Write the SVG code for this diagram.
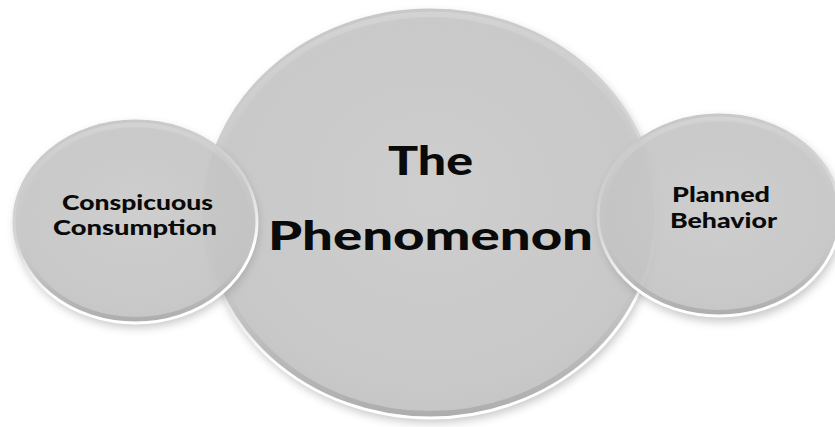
<svg xmlns="http://www.w3.org/2000/svg" width="835" height="427" viewBox="0 0 835 427">
  <style>
    .body { fill: url(#fillG); fill-opacity: 0.86; }
    .rim { fill: none; stroke: url(#rimG); stroke-width: 3; }
    .band { fill: none; stroke: url(#bandG); stroke-width: 6; }
    .shadow { fill: #8a8a8a; opacity: 0.45; filter: url(#blur); }
    .lbl { font-family: Lato, "Open Sans", "Liberation Sans", sans-serif; font-weight: 900; fill: #0a0a0a; text-anchor: middle; }
  </style>
  <defs>
    <radialGradient id="fillG" cx="0.5" cy="0.45" r="0.6">
      <stop offset="0" stop-color="#cfcfcf"/>
      <stop offset="0.8" stop-color="#c8c8c8"/>
      <stop offset="1" stop-color="#c2c2c2"/>
    </radialGradient>
    <linearGradient id="rimG" x1="0" y1="0" x2="0.3" y2="1">
      <stop offset="0" stop-color="#c4c4c4"/>
      <stop offset="0.55" stop-color="#d6d6d6"/>
      <stop offset="0.85" stop-color="#ffffff"/>
      <stop offset="1" stop-color="#ffffff"/>
    </linearGradient>
    <linearGradient id="bandG" x1="0" y1="0" x2="0" y2="1">
      <stop offset="0" stop-color="#d8d8d8" stop-opacity="0.6"/>
      <stop offset="0.6" stop-color="#c6c6c6" stop-opacity="0"/>
      <stop offset="0.85" stop-color="#b0b0b0" stop-opacity="0.6"/>
      <stop offset="1" stop-color="#a8a8a8" stop-opacity="0.8"/>
    </linearGradient>
    <filter id="blur" x="-10%" y="-10%" width="120%" height="130%">
      <feGaussianBlur stdDeviation="4"/>
    </filter>
  </defs>
  <rect width="835" height="427" fill="#ffffff"/>

  <g id="phenomenon">
    <ellipse class="shadow" cx="432" cy="218" rx="227" ry="205"/>
    <ellipse class="body" cx="430" cy="214" rx="227" ry="205"/>
    <ellipse class="band" cx="430" cy="214" rx="222" ry="200"/>
    <ellipse class="rim" cx="430" cy="214" rx="226" ry="204"/>
    <text class="lbl" x="430.5" y="175" font-size="39" textLength="85" lengthAdjust="spacingAndGlyphs">The</text>
    <text class="lbl" x="430.5" y="250" font-size="39" textLength="325" lengthAdjust="spacingAndGlyphs">Phenomenon</text>
  </g>

  <g id="conspicuous">
    <ellipse class="shadow" cx="137" cy="226" rx="122" ry="102"/>
    <ellipse class="body" cx="135.5" cy="222" rx="122.5" ry="102"/>
    <ellipse class="band" cx="135.5" cy="222" rx="118.5" ry="98"/>
    <ellipse class="rim" cx="135.5" cy="222" rx="121.5" ry="101"/>
    <text class="lbl" x="137.5" y="209.5" font-size="20.5" textLength="151" lengthAdjust="spacingAndGlyphs">Conspicuous</text>
    <text class="lbl" x="135" y="234.5" font-size="20.5" textLength="164" lengthAdjust="spacingAndGlyphs">Consumption</text>
  </g>

  <g id="planned">
    <ellipse class="shadow" cx="721" cy="220" rx="122" ry="102"/>
    <ellipse class="body" cx="719" cy="215.5" rx="122" ry="101.5"/>
    <ellipse class="band" cx="719" cy="215.5" rx="118" ry="97.5"/>
    <ellipse class="rim" cx="719" cy="215.5" rx="121" ry="100.5"/>
    <text class="lbl" x="721" y="202" font-size="21" textLength="98" lengthAdjust="spacingAndGlyphs">Planned</text>
    <text class="lbl" x="723.5" y="228" font-size="21" textLength="107" lengthAdjust="spacingAndGlyphs">Behavior</text>
  </g>

  <g id="connectors"/>
</svg>
